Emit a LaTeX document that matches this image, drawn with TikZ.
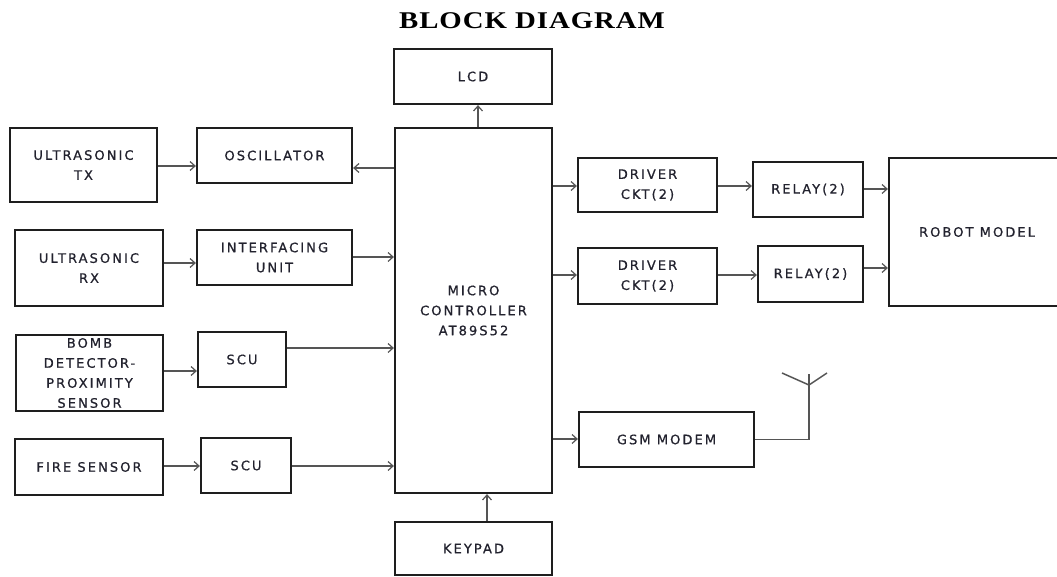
\documentclass[tikz,border=0pt]{standalone}
\usepackage{fontspec}
\setmainfont{DejaVu Sans}[LetterSpace=16,FakeBold=0.8]
\newfontfamily\titlefont{Liberation Serif}[FakeStretch=1.2,LetterSpace=4]
\usetikzlibrary{arrows.meta}
\definecolor{boxline}{HTML}{1E1E1E}
\definecolor{arrline}{HTML}{555555}
\definecolor{txt}{HTML}{22222E}
\begin{document}
\begin{tikzpicture}[x=1pt,y=-1pt,
  blk/.style={draw=boxline,line width=2.2pt,inner sep=0pt,align=center,text=txt,
    font=\fontsize{13}{20}\selectfont},
  arr/.style={draw=arrline,line width=1.3pt,-{Straight Barb[length=5pt,width=9pt,line width=1.2pt]}},
  wire/.style={draw=arrline,line width=1.5pt}]
\useasboundingbox (0,0) rectangle (1057,577);
\node[font=\titlefont\bfseries\fontsize{24}{24}\selectfont,text=black] (title) at (532,21) {BLOCK DIAGRAM};
% boxes
\node[blk,minimum width=158pt,minimum height=55pt] (lcd) at (473,76.5) {LCD};
\node[blk,minimum width=157pt,minimum height=365pt] (mcu) at (473.5,310.5) {MICRO\\CONTROLLER\\AT89S52};
\node[blk,minimum width=157pt,minimum height=53pt] (key) at (473.5,548.5) {KEYPAD};
\node[blk,minimum width=147pt,minimum height=74pt] (utx) at (83.5,165) {ULTRASONIC\\TX};
\node[blk,minimum width=155pt,minimum height=55pt] (osc) at (274.5,155.5) {OSCILLATOR};
\node[blk,minimum width=148pt,minimum height=76pt] (urx) at (89,268) {ULTRASONIC\\RX};
\node[blk,minimum width=155pt,minimum height=55pt] (ifu) at (274.5,257.5) {INTERFACING\\UNIT};
\node[blk,minimum width=147pt,minimum height=76pt] (bomb) at (89.5,373) {BOMB\\DETECTOR-\\PROXIMITY\\SENSOR};
\node[blk,minimum width=88pt,minimum height=55pt] (scua) at (242,359.5) {SCU};
\node[blk,minimum width=148pt,minimum height=56pt] (fire) at (89,467) {FIRE SENSOR};
\node[blk,minimum width=90pt,minimum height=55pt] (scub) at (246,465.5) {SCU};
\node[blk,minimum width=139pt,minimum height=54pt] (drva) at (647.5,185) {DRIVER\\CKT(2)};
\node[blk,minimum width=110pt,minimum height=55pt] (rela) at (808,189.5) {RELAY(2)};
\node[blk,minimum width=139pt,minimum height=56pt] (drvb) at (647.5,276) {DRIVER\\CKT(2)};
\node[blk,minimum width=105pt,minimum height=56pt] (relb) at (810.5,274) {RELAY(2)};
\node[blk,minimum width=176pt,minimum height=148pt] (robot) at (977,232) {ROBOT MODEL};
\node[blk,minimum width=175pt,minimum height=55pt] (gsm) at (666.5,439.5) {GSM MODEM};
% connectors
\draw[arr] ([yshift=-1pt]utx.east) -- ([yshift=-10.5pt]osc.west);
\draw[arr] ([yshift=142.5pt]mcu.west) -- ([yshift=-12.5pt]osc.east);
\draw[arr] ([yshift=5pt]urx.east) -- ([yshift=-5.5pt]ifu.west);
\draw[arr] ([yshift=0.5pt]ifu.east) -- ([yshift=53.5pt]mcu.west);
\draw[arr] ([yshift=2pt]bomb.east) -- ([yshift=-11.5pt]scua.west);
\draw[arr] ([yshift=11.5pt]scua.east) -- ([yshift=-37.5pt]mcu.west);
\draw[arr] ([yshift=1pt]fire.east) -- ([yshift=-0.5pt]scub.west);
\draw[arr] ([yshift=-0.5pt]scub.east) -- ([yshift=-155.5pt]mcu.west);
\draw[arr] ([xshift=4.5pt]mcu.north) -- ([xshift=5pt]lcd.south);
\draw[arr] ([xshift=13.5pt]key.north) -- ([xshift=13.5pt]mcu.south);
\draw[arr] ([yshift=124.5pt]mcu.east) -- ([yshift=-1pt]drva.west);
\draw[arr] ([yshift=-1pt]drva.east) -- ([yshift=3.5pt]rela.west);
\draw[arr] ([yshift=0.5pt]rela.east) -- ([yshift=43pt]robot.west);
\draw[arr] ([yshift=35.5pt]mcu.east) -- ([yshift=1pt]drvb.west);
\draw[arr] ([yshift=1pt]drvb.east) -- ([yshift=-1pt]relb.west);
\draw[arr] ([yshift=6pt]relb.east) -- ([yshift=-36pt]robot.west);
\draw[arr] ([yshift=-128.5pt]mcu.east) -- ([yshift=0.5pt]gsm.west);
% antenna
\coordinate (anttop) at (809,374);
\coordinate (antv) at (809,385);
\coordinate (antl) at (782,373);
\coordinate (antr) at (827,373);
\draw[wire] (gsm.east) -| (anttop);
\draw[wire] (antl) -- (antv) -- (antr);
\end{tikzpicture}
\end{document}
